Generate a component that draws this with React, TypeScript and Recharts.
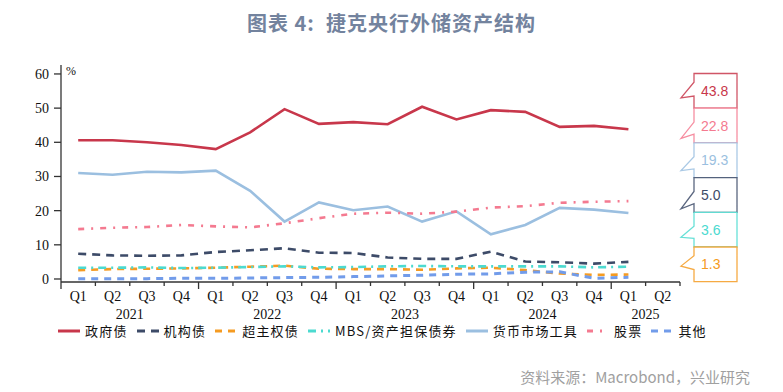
import { LineChart, Line, XAxis, YAxis } from "recharts";

// quarters 2021Q1 .. 2025Q2
const quarters = [
  "Q1", "Q2", "Q3", "Q4",
  "Q1", "Q2", "Q3", "Q4",
  "Q1", "Q2", "Q3", "Q4",
  "Q1", "Q2", "Q3", "Q4",
  "Q1", "Q2",
];
const years = ["2021", "2022", "2023", "2024", "2025"];

const govt = [40.6, 40.6, 40.0, 39.2, 38.0, 42.9, 49.7, 45.4, 45.9, 45.3, 50.4, 46.7, 49.4, 48.9, 44.5, 44.8, 43.8, null];
const agency = [7.4, 6.9, 6.8, 6.9, 7.9, 8.4, 9.0, 7.7, 7.6, 6.3, 5.9, 5.9, 8.0, 5.1, 4.9, 4.5, 5.0, null];
const supra = [2.6, 2.9, 3.0, 3.1, 3.3, 3.6, 3.9, 3.0, 2.9, 2.9, 2.7, 3.1, 3.3, 2.6, 1.6, 1.2, 1.3, null];
const mbs = [3.3, 3.3, 3.4, 3.2, 3.3, 3.5, 3.7, 3.4, 3.5, 3.7, 3.8, 3.7, 3.7, 3.7, 3.7, 3.4, 3.6, null];
const money = [31.0, 30.5, 31.4, 31.2, 31.7, 25.8, 16.8, 22.4, 20.1, 21.2, 16.8, 19.8, 13.1, 15.8, 20.8, 20.3, 19.3, null];
const equity = [14.6, 15.0, 15.2, 15.8, 15.4, 15.1, 16.3, 17.8, 19.1, 19.4, 19.1, 19.7, 20.9, 21.3, 22.3, 22.6, 22.8, null];
const other = [0.1, 0.1, 0.1, 0.2, 0.2, 0.3, 0.4, 0.5, 0.7, 0.9, 1.1, 1.4, 1.5, 2.0, 2.1, 0.2, 0.5, null];

const yTicks = [0, 10, 20, 30, 40, 50, 60];

const series = [
  { key: "govt", name: "政府债", values: govt, color: "#c8374b", dash: undefined, width: 2.6, callout: true },
  { key: "agency", name: "机构债", values: agency, color: "#3d4b68", dash: "8 6", width: 2.6, callout: true },
  { key: "supra", name: "超主权债", values: supra, color: "#f59b22", dash: "7 6", width: 2.6, callout: true },
  { key: "mbs", name: "MBS/资产担保债券", values: mbs, color: "#4cdad0", dash: "8 5 2 5", width: 2.6, callout: true },
  { key: "money", name: "货币市场工具", values: money, color: "#9bbfe0", dash: undefined, width: 2.6, callout: true },
  { key: "equity", name: "股票", values: equity, color: "#f47a90", dash: "6 7 2 7", width: 2.6, callout: true },
  { key: "other", name: "其他", values: other, color: "#729cea", dash: "7 6", width: 3, callout: false },
];

const data = quarters.map((q, i) => {
  const row: Record<string, number | string | null> = { idx: i, q };
  series.forEach((s) => (row[s.key] = s.values[i]));
  return row;
});

const boundaries = quarters.map((_, i) => i - 0.5).concat([quarters.length - 0.5]);

const PLOT_LEFT = 61;
const PLOT_RIGHT = 680;
const BAND = (PLOT_RIGHT - PLOT_LEFT) / quarters.length;
const SERIF = "'Liberation Serif', 'Times New Roman', serif";
const CJK = "'Noto Sans CJK SC', 'Noto Sans', sans-serif";

function QuarterTick(props: any) {
  const { x, y, payload } = props;
  const v = payload.value as number;
  const next = Math.round(v + 0.5);
  const isYearEdge = next % 4 === 0 && next < quarters.length;
  const out: any[] = [];
  out.push(
    <line key="t" x1={x} x2={x} y1={y} y2={y + (isYearEdge ? 7 : 4)} stroke="#333" strokeWidth={1.3} />
  );
  if (next < quarters.length) {
    out.push(
      <text key="q" x={x + BAND / 2} y={y + 19} textAnchor="middle" fontSize={14} fontFamily={SERIF} fill="#111">
        {quarters[next]}
      </text>
    );
  }
  // year label centred on the quarters of that year
  if (next >= 1 && next < quarters.length) {
    const yearIdx = Math.floor((next - 1) / 4);
    const first = yearIdx * 4;
    const count = Math.min(4, quarters.length - first);
    if (next === first + count / 2) {
      out.push(
        <text key="y" x={x} y={y + 37} textAnchor="middle" fontSize={14} fontFamily={SERIF} fill="#111">
          {years[yearIdx]}
        </text>
      );
    }
  }
  return <g>{out}</g>;
}

function Callouts() {
  const items = series
    .filter((s) => s.callout)
    .map((s) => {
      const vals = s.values.filter((v) => v !== null) as number[];
      return { color: s.color, value: vals[vals.length - 1] };
    })
    .sort((a, b) => b.value - a.value);
  const tips = [0.7, 0.87, 0.8, 0.9, 0.72, 0.55];
  const top = 73.5;
  const h = 34.7;
  const bx = 694;
  const bw = 43;
  return (
    <svg width={783} height={392} style={{ position: "absolute", left: 0, top: 0, pointerEvents: "none" }}>
      {items.map((it, i) => {
        const y0 = top + i * h;
        const y1 = y0 + h;
        const pa = y0 + h * (tips[i] > 0.7 ? 0.4 : 0.25);
        const pb = y0 + h * (tips[i] > 0.7 ? 0.75 : 0.65);
        const ty = y0 + h * tips[i];
        const d = `M${bx},${y0} L${bx + bw},${y0} L${bx + bw},${y1} L${bx},${y1} L${bx},${pb} L681,${ty} L${bx},${pa} Z`;
        return (
          <g key={i}>
            <path d={d} fill="#fff" stroke={it.color} strokeWidth={1.3} strokeOpacity={0.85} />
            <text x={701} y={y0 + h / 2 + 5} fontSize={14} fontFamily="'Liberation Sans', Arial, sans-serif" fill={it.color}>
              {it.value.toFixed(1)}
            </text>
          </g>
        );
      })}
    </svg>
  );
}

function LegendRow() {
  return (
    <div
      style={{
        position: "absolute",
        left: 58,
        top: 321,
        display: "flex",
        alignItems: "center",
        fontFamily: CJK,
        fontSize: 13,
        color: "#111",
        letterSpacing: 1.2,
        whiteSpace: "nowrap",
      }}
    >
      {series.map((s) => (
        <div key={s.key} style={{ display: "flex", alignItems: "center", marginRight: 9 }}>
          <svg width={22} height={10} style={{ marginRight: 5 }}>
            <line x1={0} x2={22} y1={5} y2={5} stroke={s.color} strokeWidth={3} strokeDasharray={s.dash} />
          </svg>
          <span>{s.name}</span>
        </div>
      ))}
    </div>
  );
}

export default function App() {
  return (
    <div style={{ position: "absolute", left: 0, top: 0, width: 783, height: 392, background: "#fff", overflow: "hidden" }}>
      <div
        style={{
          position: "absolute",
          top: 8,
          left: 0,
          width: 783,
          textAlign: "center",
          fontFamily: CJK,
          fontWeight: 700,
          fontSize: 20,
          color: "#73839e",
          letterSpacing: 1,
        }}
      >
        图表 4:&nbsp;&nbsp;捷克央行外储资产结构
      </div>
      <div style={{ position: "absolute", left: 0, top: 0 }}>
        <LineChart width={783} height={345} data={data} margin={{ top: 65, right: 103, left: 0, bottom: 0 }}>
          <XAxis
            dataKey="idx"
            type="number"
            domain={[-0.5, quarters.length - 0.5]}
            ticks={boundaries}
            interval={0}
            height={63}
            tickSize={0}
            tickMargin={0}
            tickLine={false}
            axisLine={{ stroke: "#333", strokeWidth: 1.3 }}
            tick={<QuarterTick />}
            allowDataOverflow
          />
          <YAxis
            width={61}
            domain={[-0.88, 62.62]}
            ticks={yTicks}
            interval={0}
            allowDataOverflow
            tickSize={7}
            tickMargin={5}
            axisLine={{ stroke: "#333", strokeWidth: 1.3 }}
            tickLine={{ stroke: "#333", strokeWidth: 1.3 }}
            tick={{ fill: "#111", fontSize: 14, fontFamily: SERIF }}
          />
          {series.map((s) => (
            <Line
              key={s.key}
              dataKey={s.key}
              name={s.name}
              stroke={s.color}
              strokeWidth={s.width}
              strokeDasharray={s.dash}
              dot={false}
              activeDot={false}
              type="linear"
              isAnimationActive={false}
            />
          ))}
        </LineChart>
      </div>
      <div style={{ position: "absolute", left: 66, top: 64, fontSize: 12, fontFamily: SERIF, color: "#111" }}>%</div>
      <Callouts />
      <LegendRow />
      <div
        style={{
          position: "absolute",
          right: 33,
          top: 366,
          fontFamily: CJK,
          fontSize: 15,
          color: "#a0a0a0",
        }}
      >
        资料来源：Macrobond，兴业研究
      </div>
    </div>
  );
}
